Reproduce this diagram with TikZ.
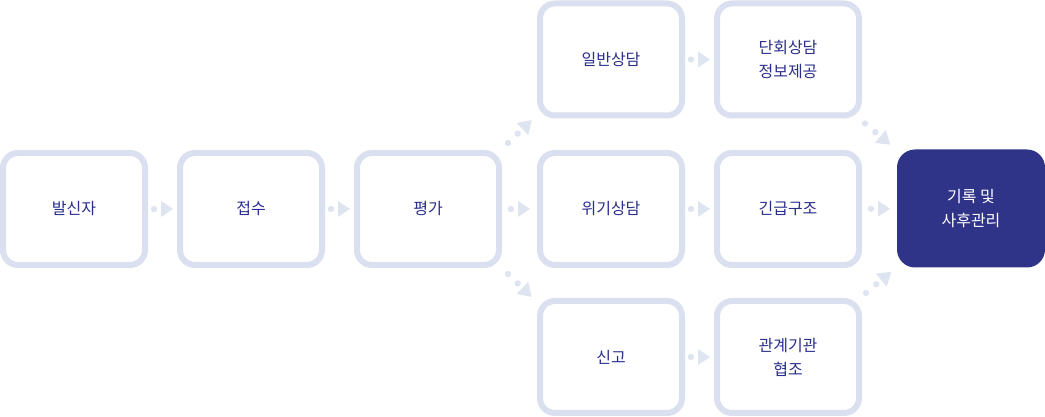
\documentclass[tikz,border=0pt]{standalone}
\usepackage{fontspec}
\usetikzlibrary{calc}
\setmainfont{Noto Sans CJK KR}
\definecolor{bordc}{HTML}{DAE0EF}
\definecolor{conc}{HTML}{DFE4F1}
\definecolor{txtc}{HTML}{2A2E8C}
\definecolor{finc}{HTML}{303488}
\tikzset{
  box/.style={draw=bordc, line width=6pt, rounded corners=15pt, minimum width=142pt,
    minimum height=112pt, fill=white, text=txtc, font=\fontsize{16}{24}\selectfont,
    align=center, inner sep=0pt},
  finalbox/.style={box, draw=none, line width=0.4pt, fill=finc, text=white,
    rounded corners=18pt, minimum width=148pt, minimum height=118pt, outer sep=0pt},
  hconn/.pic={
    \fill[conc] (-8.5,0) circle (3.2);
    \fill[conc] (-1.5,8) -- (10.5,0) -- (-1.5,-8) -- cycle;
  },
  dconn/.pic={
    \fill[conc] (0,0) circle (3.2);
    \fill[conc] (13.5,0) circle (3.2);
    \fill[conc] (20,8.5) -- (33,0) -- (20,-8.5) -- cycle;
  }
}
\begin{document}
\begin{tikzpicture}[x=1pt,y=1pt]
\useasboundingbox (0,0) rectangle (1045,417);
\node[box] (a) at (74,208) {발신자};
\node[box] (b) at (251,208) {접수};
\node[box] (c) at (428,208) {평가};
\node[box] (d1) at (611,357.5) {일반상담};
\node[box] (d2) at (611,208) {위기상담};
\node[box] (d3) at (611,60) {신고};
\node[box] (e1) at (788,357.5) {단회상담\\정보제공};
\node[box] (e2) at (788,208) {긴급구조};
\node[box] (e3) at (788,60) {관계기관\\협조};
\node[finalbox] (f) at (971,208.5) {기록 및\\사후관리};
\pic at ($(a.east)!0.5!(b.west)$) {hconn};
\pic at ($(b.east)!0.5!(c.west)$) {hconn};
\pic at ($(c.east)!0.5!(d2.west)$) {hconn};
\pic at ($(d1.east)!0.5!(e1.west)$) {hconn};
\pic at ($(d2.east)!0.5!(e2.west)$) {hconn};
\pic at ($(d3.east)!0.5!(e3.west)$) {hconn};
\pic at ($(e2.east)!0.5!(f.west)$) {hconn};
\pic[rotate=44] at ($(c.north east)+(6,7)$) {dconn};
\pic[rotate=-44] at ($(c.south east)+(6,-6)$) {dconn};
\pic[rotate=-40] at ($(e1.south east)+(3,-5)$) {dconn};
\pic[rotate=40] at ($(e3.north east)+(4,5)$) {dconn};
\end{tikzpicture}
\end{document}
